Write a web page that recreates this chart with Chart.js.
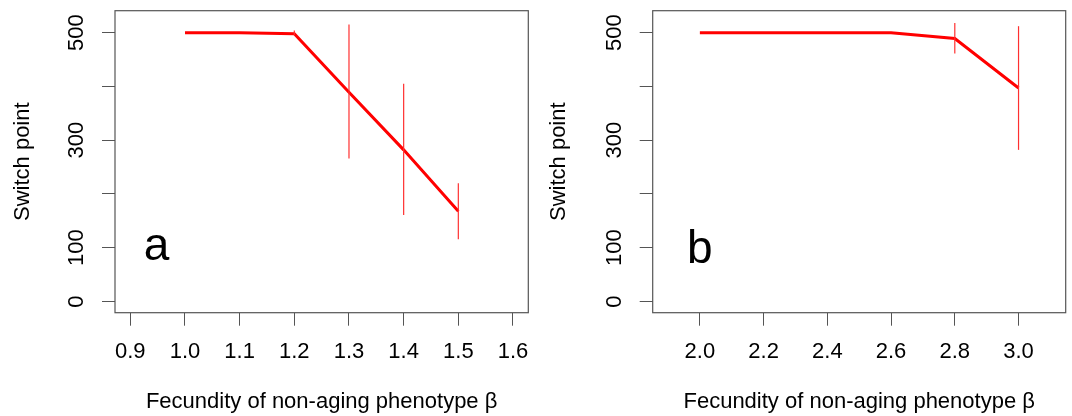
<!DOCTYPE html>
<html>
<head>
<meta charset="utf-8">
<script src="https://cdn.jsdelivr.net/npm/chart.js@4/dist/chart.umd.min.js"></script>
<style>
  html, body { margin: 0; padding: 0; background: #fff; }
  #wrap { position: relative; width: 1072px; height: 416px; }
  #wrap canvas { position: absolute; top: 0; }
</style>
</head>
<body>
<div id="wrap">
  <canvas id="panel-a" width="536" height="416" style="left:0"></canvas>
  <canvas id="panel-b" width="536" height="416" style="left:536px"></canvas>
</div>
<script>
// ── Data ────────────────────────────────────────────────────────────────────
// panel a
const xA      = [1.0, 1.1, 1.2, 1.3, 1.4, 1.5];
const yA      = [500, 500, 498, 389, 282, 168];
const loA     = [null, null, 495, 266, 161, 116];
const hiA     = [null, null, 504, 515, 405, 220];
const xTicksA = [0.9, 1.0, 1.1, 1.2, 1.3, 1.4, 1.5, 1.6];
const xRangeA = [0.872, 1.628];

// panel b
const xB      = [2.0, 2.2, 2.4, 2.6, 2.8, 3.0];
const yB      = [500, 500, 500, 500, 489, 397];
const loB     = [null, null, null, null, 461, 282];
const hiB     = [null, null, null, null, 518, 512];
const xTicksB = [2.0, 2.2, 2.4, 2.6, 2.8, 3.0];
const xRangeB = [1.852, 3.148];

// shared y axis
const yTicks  = [0, 100, 200, 300, 400, 500];
const yLabels = [0, 100, 300, 500];
const yRange  = [-20.8, 540.8];

const xTitle = 'Fecundity of non-aging phenotype β';
const yTitle = 'Switch point';

// panel letters: [text, x, y] in data units
const letterA = ['a', 0.948, 77];
const letterB = ['b', 2.0, 72];

// ── Style ───────────────────────────────────────────────────────────────────
const FONT = '"Liberation Sans", Arial, sans-serif';
const AXIS_GREY = '#555555';
Chart.defaults.font.family = FONT;
Chart.defaults.color = '#000';

// no label overhang padding, so the plot box sits exactly where we want it
const noOverhang = s => { s.paddingTop = 0; s.paddingBottom = 0; s.paddingLeft = 0; s.paddingRight = 0; };

// box + error bars + panel letter, all positioned through the chart scales
const panelExtras = {
  id: 'panelExtras',
  afterDatasetsDraw(chart, args, opts) {
    const { ctx, chartArea: a, scales: { x, y } } = chart;
    ctx.save();
    // error bars
    ctx.strokeStyle = '#ff3030';
    ctx.lineWidth = 1.2;
    opts.xs.forEach((xv, i) => {
      if (opts.lo[i] == null) return;
      const px = x.getPixelForValue(xv);
      ctx.beginPath();
      ctx.moveTo(px, y.getPixelForValue(opts.lo[i]));
      ctx.lineTo(px, y.getPixelForValue(opts.hi[i]));
      ctx.stroke();
    });
    // frame
    ctx.strokeStyle = AXIS_GREY;
    ctx.lineWidth = 1.2;
    ctx.strokeRect(a.left, a.top, a.right - a.left, a.bottom - a.top);
    // letter
    const [txt, lx, ly] = opts.letter;
    ctx.fillStyle = '#000';
    ctx.font = '46px ' + FONT;
    ctx.textAlign = 'center';
    ctx.textBaseline = 'alphabetic';
    ctx.fillText(txt, x.getPixelForValue(lx), y.getPixelForValue(ly));
    ctx.restore();
  },
};

function makePanel(id, xs, ys, lo, hi, xTicks, xRange, letter, yAxisWidth, rightPad) {
  return new Chart(document.getElementById(id), {
    type: 'scatter',
    data: {
      datasets: [{
        data: xs.map((v, i) => ({ x: v, y: ys[i] })),
        showLine: true,
        borderColor: '#ff0000',
        backgroundColor: '#ff0000',
        borderWidth: 3,
        pointRadius: 0,
        tension: 0,
      }],
    },
    options: {
      responsive: false,
      animation: false,
      events: [],
      layout: { padding: { top: 10.7, right: rightPad, left: 0, bottom: 0 } },
      plugins: {
        legend: { display: false },
        tooltip: { enabled: false },
        panelExtras: { xs, lo, hi, letter },
      },
      scales: {
        x: {
          type: 'linear',
          position: 'bottom',
          min: xRange[0], max: xRange[1],
          afterBuildTicks: s => { s.ticks = xTicks.map(v => ({ value: v })); },
          afterFit: s => { s.height = 103.3; noOverhang(s); },
          ticks: { callback: v => v.toFixed(1), font: { size: 22 }, padding: 13.5, maxRotation: 0, autoSkip: false },
          grid: { drawOnChartArea: false, drawTicks: true, tickLength: 13, color: AXIS_GREY },
          border: { display: false },
          title: { display: true, text: xTitle, font: { size: 22 }, padding: { top: 0, bottom: 1 } },
        },
        y: {
          type: 'linear',
          min: yRange[0], max: yRange[1],
          afterBuildTicks: s => { s.ticks = yTicks.map(v => ({ value: v })); },
          afterFit: s => { s.width = yAxisWidth; noOverhang(s); },
          ticks: {
            callback: v => (yLabels.includes(v) ? String(v) : ''),
            font: { size: 22 }, minRotation: 90, maxRotation: 90,
            crossAlign: 'center', padding: 6.5, autoSkip: false,
          },
          grid: { drawOnChartArea: false, drawTicks: true, tickLength: 13, color: AXIS_GREY },
          border: { display: false },
          title: { display: true, text: yTitle, font: { size: 22 }, padding: { top: 9.8, bottom: 0 } },
        },
      },
    },
    plugins: [panelExtras],
  });
}

makePanel('panel-a', xA, yA, loA, hiA, xTicksA, xRangeA, letterA, 115, 7.7);
makePanel('panel-b', xB, yB, loB, hiB, xTicksB, xRangeB, letterB, 116.7, 6.3);
</script>
</body>
</html>
